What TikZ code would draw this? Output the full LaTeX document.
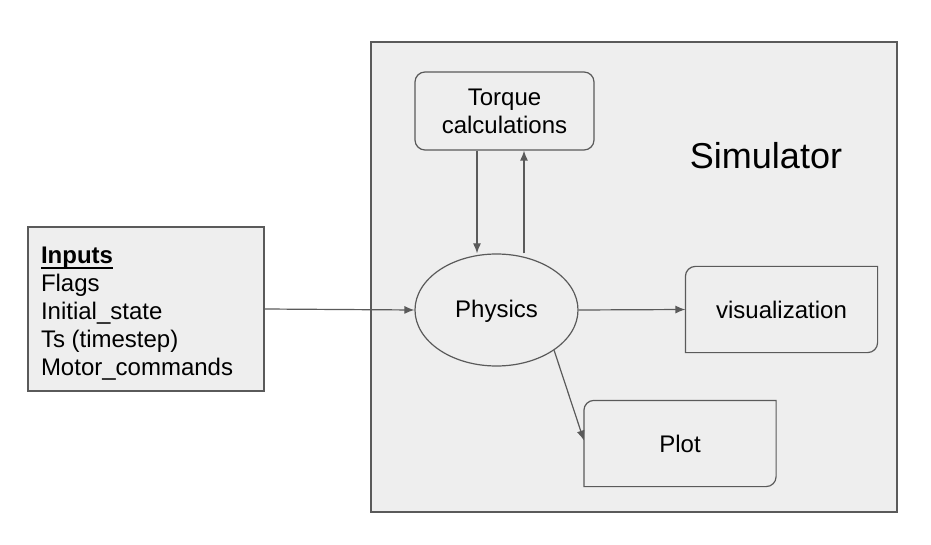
\documentclass[tikz,border=0pt]{standalone}
\usepackage{fontspec}
\setmainfont{Liberation Sans}
\usepackage{tikz}
\usetikzlibrary{shapes.geometric,arrows.meta}
\definecolor{linegray}{RGB}{90,90,90}
\definecolor{boxfill}{RGB}{238,238,238}
\newcommand{\headline}[1]{\leavevmode\setbox0=\hbox{#1}\rlap{\vrule width \wd0 height -1.7pt depth 2.4pt}\box0}

\begin{document}
\begin{tikzpicture}[x=0.5pt, y=-0.5pt, line width=0.6pt]
      \tikzstyle{arrow} = [-{Latex[length=5pt, width=4pt]}, draw=linegray]
      \tikzstyle{block} = [rectangle, text centered, fill=boxfill, inner sep=0pt, font=\fontsize{12}{14}\selectfont]
      \tikzstyle{sidebox} = [block, minimum width=95.5pt, minimum height=42.5pt]
      \tikzstyle{cornerline} = [draw=linegray]

      \useasboundingbox (0,0) rectangle (931,545);
      \path[] node[rectangle, draw=linegray, fill=boxfill, minimum width=263pt, minimum height=235pt] (sim) at (634,277) {};
      \node (sim-label) [font=\fontsize{18}{20}\selectfont] at (766,156) {Simulator};

      \path[] node[block, draw=linegray, minimum width=118pt, minimum height=82pt] (inputs) at (146,309) {};
      \node (inputs-text) [anchor=west, align=left, inner sep=0pt, font=\fontsize{12}{14}\selectfont]
        at ([xshift=6.5pt, yshift=-2.5pt]inputs.west)
        {\headline{\textbf{Inputs}}\\Flags\\Initial\_state\\Ts (timestep)\\Motor\_commands};
      \path[] node[block, draw=linegray, rounded corners=5pt, align=center, minimum width=89.5pt, minimum height=39pt] (torque) at (504.5,111)
        {Torque\\calculations};
      \path[] node[block, ellipse, draw=linegray, text depth=1pt, minimum width=81.5pt, minimum height=56pt] (physics) at (496.5,310) {Physics};
      \path[] node[sidebox] (vis) at (781.5,309.5) {visualization};
      \path[] node[sidebox] (plot) at (680,443.5) {Plot};

      % top-left and bottom-right corners rounded
      \foreach \n in {vis, plot}
      {
        \draw [cornerline] (\n.south west) -- ([yshift=-5pt]\n.north west)
          arc[start angle=180, end angle=90, radius=5pt] -- (\n.north east)
          -- ([yshift=5pt]\n.south east) arc[start angle=0, end angle=-90, radius=5pt] -- cycle;
      }

      \draw [arrow] (inputs.east) -- (physics.west);
      \draw [arrow] ([xshift=-13.75pt]torque.south) -- ([xshift=-13.75pt]torque.south |- physics.north);
      \draw [arrow] ([xshift=9.75pt]torque.south |- physics.north) -- ([xshift=9.75pt]torque.south);
      \draw [arrow] (physics.east) -- (vis.west);
      \draw [arrow] (physics.-35) -- ([yshift=1.5pt]plot.west);
\end{tikzpicture}
\end{document}
